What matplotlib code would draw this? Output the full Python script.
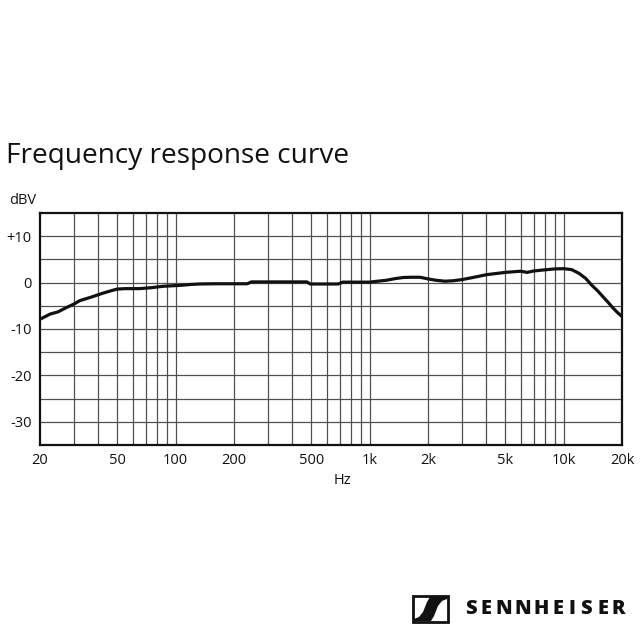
import matplotlib
matplotlib.use("Agg")
import matplotlib.pyplot as plt
from matplotlib.patches import Rectangle, PathPatch
from matplotlib.path import Path

freq_hz = [20, 22.5, 24.8, 27, 30, 32, 36.9, 42.4, 47, 50, 55, 65, 75, 86, 105, 120, 133, 160, 200, 234,
           246, 300, 400, 475, 494, 550, 688, 728, 800, 960, 1000, 1100, 1220, 1350, 1490, 1650, 1820,
           2000, 2200, 2450, 2700, 3000, 3500, 4000, 5000, 6000, 6500, 7000, 8000, 9000, 10000, 11000,
           12000, 13000, 14000, 15000, 16000, 17000, 18000, 19000, 20000]
level_db = [-7.9, -6.8, -6.3, -5.5, -4.6, -3.9, -3.1, -2.25, -1.7, -1.4, -1.3, -1.3, -1.1, -0.8, -0.6, -0.4, -0.3, -0.25, -0.25, -0.25,
            0.15, 0.15, 0.15, 0.15, -0.3, -0.3, -0.3, 0.1, 0.1, 0.1, 0.1, 0.3, 0.5, 0.85, 1.1, 1.15, 1.15,
            0.8, 0.5, 0.3, 0.4, 0.65, 1.2, 1.7, 2.2, 2.45, 2.2, 2.5, 2.75, 2.95, 3.0, 2.8,
            2.0, 0.9, -0.6, -1.8, -3.1, -4.3, -5.5, -6.5, -7.3]

x_ticks = [20, 50, 100, 200, 500, 1000, 2000, 5000, 10000, 20000]
x_tick_labels = ["20", "50", "100", "200", "500", "1k", "2k", "5k", "10k", "20k"]
y_ticks = [10, 0, -10, -20, -30]
y_tick_labels = ["+10", "0", "-10", "-20", "-30"]

plt.rcParams['font.family'] = ['Open Sans', 'DejaVu Sans']

fig = plt.figure(figsize=(6.4, 6.4), dpi=100)
ax = fig.add_axes([40/640, 1-445/640, 582/640, 232/640])

ax.set_xscale('log')
ax.set_xlim(20, 20000)
ax.set_ylim(-35, 15)

minor = []
for dec in [10, 100, 1000, 10000]:
    for m in range(1, 10):
        v = dec * m
        if 20 < v < 20000:
            minor.append(v)
for v in minor:
    ax.axvline(v, color='#505050', lw=0.9, zorder=1)
for v in range(-30, 15, 5):
    ax.axhline(v, color='#505050', lw=0.9, zorder=1)

ax.plot(freq_hz, level_db, color='#111111', lw=2.3, zorder=3, solid_joinstyle='round')

ax.set_xticks(x_ticks)
ax.set_xticklabels(x_tick_labels)
ax.xaxis.set_minor_locator(matplotlib.ticker.NullLocator())
ax.set_yticks(y_ticks)
ax.set_yticklabels(y_tick_labels)
ax.tick_params(axis='both', length=0, labelsize=10.5, colors='#111111', pad=6)
for s in ax.spines.values():
    s.set_linewidth(1.6)
    s.set_color('#111111')

fig.text(6/640, 1-156/640, "Frequency response curve", fontsize=20.2, va='center', ha='left', color='#111111')
fig.text(9/640, 1-200/640, "dBV", fontsize=10.5, va='center', ha='left', color='#111111')
fig.text(342/640, 1-480/640, "Hz", fontsize=10.5, va='center', ha='center', color='#111111')

# logo
lax = fig.add_axes([0, 0, 1, 1], zorder=5)
lax.set_xlim(0, 640)
lax.set_ylim(640, 0)
lax.axis('off')
lax.add_patch(Rectangle((414, 597), 33, 24, facecolor='#111111', edgecolor='none'))
white1 = Path([(414, 597), (430, 597), (427, 602), (423, 612), (419, 617), (414, 619), (414, 597)])
white2 = Path([(447, 621), (431, 621), (434, 616), (438, 606), (442, 601), (447, 599), (447, 621)])
lax.add_patch(PathPatch(white1, facecolor='white', edgecolor='none'))
lax.add_patch(PathPatch(white2, facecolor='white', edgecolor='none'))
lax.add_patch(Rectangle((413, 596), 35, 26, facecolor='none', edgecolor='#111111', lw=2))

letters = "SENNHEISER"
centers = [470.5, 486.5, 504, 522.5, 541, 557.5, 571.5, 586, 603, 618]
for ch, cx in zip(letters, centers):
    lax.text(cx, 609.5, ch, fontsize=14.5, fontweight='heavy', va='center', ha='center',
             color='#111111', family=['Open Sans', 'DejaVu Sans'])

fig.savefig("out.png", dpi=100, facecolor='white')
